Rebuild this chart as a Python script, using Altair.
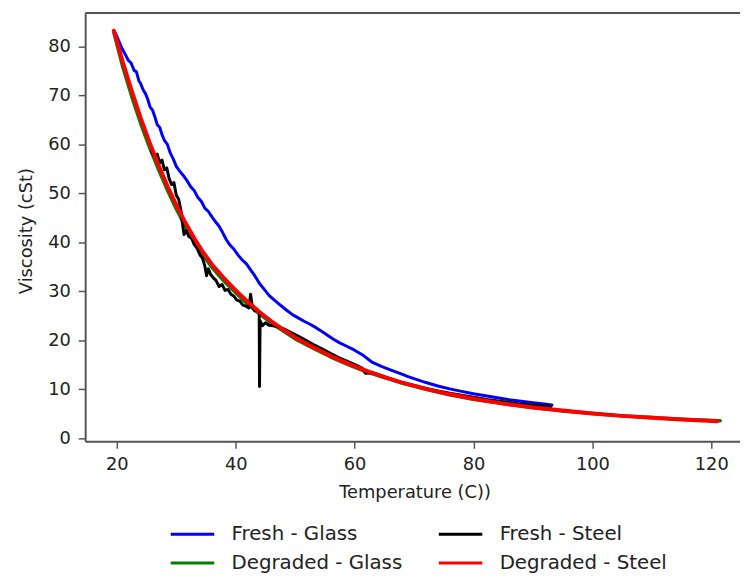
import altair as alt
import pandas as pd

# ---------------- data ----------------
# legend entries flow down the columns: column 1 = glass, column 2 = steel
legend_order = ["Fresh - Glass", "Degraded - Glass", "Fresh - Steel", "Degraded - Steel"]
legend_colors = ["#0000ff", "#008000", "#000000", "#ff0000"]

fresh_glass_t = [19.8, 20.3, 20.9, 21.4, 21.9, 22.4, 22.9, 23.3, 23.7, 24.0, 24.4, 24.8, 25.2, 25.6,
                 26.0, 26.4, 26.8, 27.2, 27.6, 28.0, 28.5, 29.0, 29.5, 30.0, 30.6, 31.2, 31.8, 32.4,
                 33.0, 33.6, 34.2, 34.8, 35.4, 36.0, 36.6, 37.2, 37.8, 38.4, 39.0, 39.7, 40.4, 41.1,
                 41.8, 42.5, 43.2, 44.0, 44.8, 45.6, 46.5, 47.5, 48.5, 49.5, 50.5, 51.5, 52.5, 53.5,
                 54.5, 55.5, 56.5, 57.5, 58.5, 60.0, 61.5, 63.0, 64.5, 66.0, 67.5, 69.0, 70.5, 72.0,
                 74.0, 76.0, 78.0, 80.0, 82.0, 84.0, 86.0, 88.0, 90.0, 91.5, 93.2]
fresh_glass_v = [82.6, 81.2, 79.5, 78.4, 77.2, 76.6, 75.1, 74.8, 73.0, 72.4, 71.2, 70.4, 69.2, 67.6,
                 67.0, 65.6, 64.0, 63.5, 62.0, 60.8, 60.0, 58.2, 57.0, 55.5, 54.5, 53.6, 52.6, 51.4,
                 50.6, 49.2, 48.4, 47.0, 46.3, 45.2, 44.2, 43.3, 42.0, 40.6, 39.5, 38.6, 37.4, 36.4,
                 35.6, 34.4, 33.2, 31.6, 30.4, 29.2, 28.2, 27.2, 26.2, 25.3, 24.6, 23.9, 23.3, 22.6,
                 21.8, 21.0, 20.2, 19.5, 18.9, 18.0, 16.9, 15.5, 14.7, 14.0, 13.3, 12.6, 12.0, 11.4,
                 10.7, 10.1, 9.6, 9.1, 8.7, 8.3, 7.9, 7.6, 7.3, 7.1, 6.8]

fresh_steel_t = [25.8, 26.3, 26.8, 27.2, 27.6, 28.0, 28.4, 28.8, 29.2, 29.6, 30.0, 30.4, 30.8, 31.0,
                 31.3, 31.7, 32.1, 32.6, 33.0, 33.5, 34.0, 34.4, 34.8, 35.1, 35.4, 35.8, 36.2, 36.7,
                 37.2, 37.7, 38.2, 38.7, 39.2, 39.7, 40.2, 40.7, 41.2, 41.7, 42.2, 42.5, 42.8, 43.2,
                 43.6, 43.95, 44.0, 44.1, 44.5, 45.0, 45.6, 46.3, 47.0, 48.0, 49.0, 50.0, 51.5, 53.0,
                 54.5, 56.0, 57.5, 59.0, 60.5, 61.3, 61.8, 63.0, 64.5, 66.0, 68.0, 70.0, 72.0, 74.0,
                 76.0, 78.0, 80.0, 82.5, 85.0, 87.5, 90.0, 93.0]
fresh_steel_v = [58.6, 57.6, 58.0, 56.2, 56.8, 54.8, 55.2, 53.0, 51.8, 52.2, 49.6, 48.8, 46.4, 44.2,
                 41.6, 42.4, 41.2, 40.8, 39.6, 38.8, 37.4, 36.8, 35.2, 33.2, 34.6, 33.4, 32.8, 32.2,
                 31.0, 31.4, 30.2, 30.4, 29.4, 29.0, 28.2, 28.0, 27.2, 27.0, 26.6, 29.4, 26.8, 26.0,
                 26.2, 25.6, 10.6, 24.0, 23.0, 23.6, 23.1, 23.0, 22.8, 22.4, 21.8, 21.2, 20.2, 19.2,
                 18.3, 17.3, 16.4, 15.6, 14.8, 14.3, 13.3, 13.4, 12.8, 12.2, 11.4, 10.8, 10.2, 9.7,
                 9.2, 8.8, 8.4, 7.9, 7.5, 7.1, 6.8, 6.5]

degraded_steel_t = [19.5, 21, 22.5, 24, 25.5, 27, 28.5, 30, 31.5, 33, 34.5, 36, 38, 40, 42, 44, 46,
                    48, 50, 53, 56, 59, 62, 65, 68, 72, 76, 80, 85, 90, 95, 100, 105, 110, 115, 121]
degraded_steel_v = [83.2, 76.8, 70.9, 65.4, 60.4, 55.8, 51.5, 47.6, 44.1, 40.9, 38.0, 35.5, 32.7,
                    30.2, 27.9, 25.8, 23.9, 22.2, 20.6, 18.6, 16.8, 15.2, 13.8, 12.5, 11.4, 10.1,
                    9.0, 8.1, 7.1, 6.3, 5.7, 5.1, 4.6, 4.2, 3.85, 3.5]

degraded_glass_t = [19.5, 21, 22.5, 24, 25.5, 27, 28.5, 30, 31.5, 33, 34.5, 36, 38, 40, 42, 44, 46,
                    48, 50, 53, 56, 59, 62, 65, 68, 72, 76, 80, 85, 90, 95, 100, 105, 110, 115, 121.5]
degraded_glass_v = [82.8, 75.8, 69.8, 64.3, 59.4, 54.9, 50.7, 46.8, 43.3, 40.2, 37.4, 34.9, 32.1,
                    29.7, 27.4, 25.4, 23.5, 21.9, 20.3, 18.4, 16.6, 15.0, 13.6, 12.4, 11.3, 10.0,
                    8.9, 8.0, 7.1, 6.3, 5.6, 5.1, 4.6, 4.25, 3.9, 3.6]

x_ticks = [20, 40, 60, 80, 100, 120]
y_ticks = [0, 10, 20, 30, 40, 50, 60, 70, 80]

# ---------------- chart ----------------
FONT = "DejaVu Sans"
TXT = "#222222"
SPINE = "#555555"
W, H = 662, 433

x_scale = alt.Scale(domain=[14.67, 124.83], nice=False, zero=False)
y_scale = alt.Scale(domain=[-0.6, 86.8], nice=False, zero=False)
color_scale = alt.Scale(domain=legend_order, range=legend_colors)

x_axis = alt.Axis(values=x_ticks, grid=False, title="Temperature (C))", format="d",
                  tickSize=7, tickWidth=1.5, tickColor=SPINE, domainColor=SPINE, domainWidth=2,
                  labelFont=FONT, labelFontSize=18, labelColor=TXT, labelPadding=7,
                  titleFont=FONT, titleFontSize=18, titleColor=TXT, titleFontWeight="normal",
                  titleBaseline="top", titleY=43, titleX=W / 2 + 2)
y_axis = alt.Axis(values=y_ticks, grid=False, title="Viscosity (cSt)", format="d",
                  tickSize=7, tickWidth=1.5, tickColor=SPINE, domainColor=SPINE, domainWidth=2,
                  labelFont=FONT, labelFontSize=18, labelColor=TXT, labelPadding=8,
                  titleFont=FONT, titleFontSize=18, titleColor=TXT, titleFontWeight="normal",
                  titleAngle=-90, titleBaseline="alphabetic", titleAlign="center",
                  titleX=-54, titleY=220)
legend = alt.Legend(orient="none", legendX=85, legendY=517, columns=2, title=None,
                    symbolType="stroke", symbolSize=1936, symbolStrokeWidth=3, clipHeight=20,
                    labelFont=FONT, labelFontSize=20, labelColor=TXT, labelOffset=16,
                    labelLimit=400, rowPadding=9, columnPadding=35, padding=0)


def series_layer(name, t, v, width):
    df = pd.DataFrame({"T": t, "V": v, "series": name, "i": list(range(len(t)))})
    return alt.Chart(df).mark_line(strokeWidth=width, strokeJoin="round", strokeCap="round").encode(
        x=alt.X("T:Q", scale=x_scale, axis=x_axis),
        y=alt.Y("V:Q", scale=y_scale, axis=y_axis),
        color=alt.Color("series:N", scale=color_scale, legend=legend),
        order=alt.Order("i:Q"),
    )


top_spine = alt.Chart(pd.DataFrame({"a": [0]})).mark_rule(color=SPINE, strokeWidth=2).encode(
    x=alt.value(0), x2=alt.value(W), y=alt.value(0))

chart = alt.layer(
    series_layer("Fresh - Glass", fresh_glass_t, fresh_glass_v, 3),
    series_layer("Degraded - Glass", degraded_glass_t, degraded_glass_v, 3.5),
    series_layer("Fresh - Steel", fresh_steel_t, fresh_steel_v, 3),
    series_layer("Degraded - Steel", degraded_steel_t, degraded_steel_v, 4),
    top_spine,
).properties(
    width=W, height=H, autosize="none",
    padding={"left": 78, "top": 2, "right": 0, "bottom": 130},
).configure_view(stroke=None).configure(font=FONT)

chart.save("out.html", embed_options={"renderer": "svg", "actions": False})
